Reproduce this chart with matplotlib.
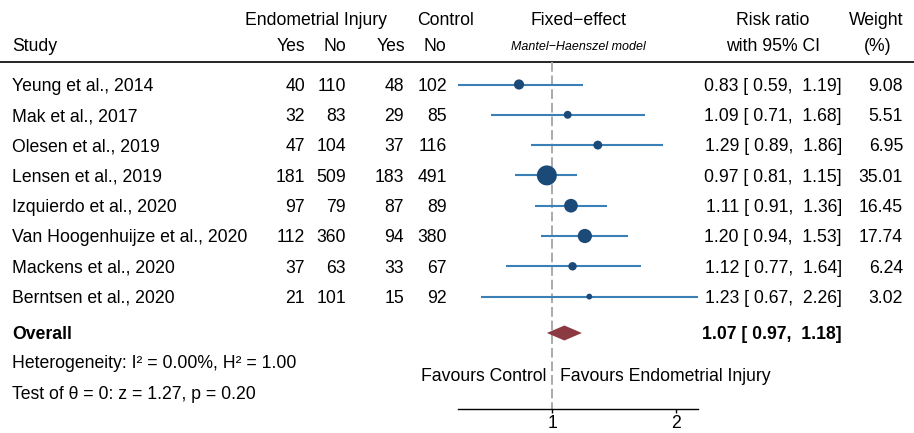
import matplotlib.pyplot as plt
import numpy as np
from matplotlib.ticker import NullLocator

plt.rcParams['font.family'] = ['Liberation Sans', 'DejaVu Sans']
plt.rcParams['font.size'] = 12.7

# study level data (endometrial injury vs control)
studies = ["Yeung et al., 2014", "Mak et al., 2017", "Olesen et al., 2019",
           "Lensen et al., 2019", "Izquierdo et al., 2020",
           "Van Hoogenhuijze et al., 2020", "Mackens et al., 2020",
           "Berntsen et al., 2020"]
ei_yes = [40, 32, 47, 181, 97, 112, 37, 21]
ei_no = [110, 83, 104, 509, 79, 360, 63, 101]
ctl_yes = [48, 29, 37, 183, 87, 94, 33, 15]
ctl_no = [102, 85, 116, 491, 89, 380, 67, 92]
rr = np.array([0.83, 1.09, 1.29, 0.97, 1.11, 1.20, 1.12, 1.23])
rr_lo = np.array([0.59, 0.71, 0.89, 0.81, 0.91, 0.94, 0.77, 0.67])
rr_hi = np.array([1.19, 1.68, 1.86, 1.15, 1.36, 1.53, 1.64, 2.26])
weight = np.array([9.08, 5.51, 6.95, 35.01, 16.45, 17.74, 6.24, 3.02])

# pooled estimate
ov_rr, ov_lo, ov_hi = 1.07, 0.97, 1.18
het_text = "Heterogeneity: I\u00b2 = 0.00%, H\u00b2 = 1.00"
test_text = "Test of \u03b8 = 0: z = 1.27, p = 0.20"

W, H = 914, 433
fig = plt.figure(figsize=(W / 100, H / 100), dpi=100)

# full figure axes in pixel units for the table text
bg = fig.add_axes([0, 0, 1, 1])
bg.set_xlim(0, W)
bg.set_ylim(H, 0)
bg.axis('off')

row_y = 84.5 + 30.3 * np.arange(len(studies))
ov_y = 333
base = 6.3  # half cap height -> baseline offset

def txt(x, y, s, ha='left', **kw):
    bg.text(x, y + base, s, ha=ha, va='baseline', **kw)

# header
txt(316, 19, "Endometrial Injury", ha='center')
txt(445, 19, "Control", ha='center')
txt(578, 19, "Fixed\u2212effect", ha='center')
txt(773, 19, "Risk ratio", ha='center')
txt(876, 19, "Weight", ha='center')
txt(12, 45, "Study")
for x, s in zip([305, 346, 405, 446], ["Yes", "No", "Yes", "No"]):
    txt(x, 45, s, ha='right')
bg.text(578, 45 + 4.5, "Mantel\u2212Haenszel model", ha='center', va='baseline',
        fontsize=9, style='italic')
txt(773, 45, "with 95% CI", ha='center')
txt(878, 45, "(%)", ha='center')
bg.plot([0, W], [62, 62], color='black', lw=1.2)

# study rows
for i, y in enumerate(row_y):
    txt(12, y, studies[i])
    txt(305, y, str(ei_yes[i]), ha='right')
    txt(346, y, str(ei_no[i]), ha='right')
    txt(404, y, str(ctl_yes[i]), ha='right')
    txt(447, y, str(ctl_no[i]), ha='right')
    txt(842, y, f"{rr[i]:.2f} [{rr_lo[i]:5.2f}, {rr_hi[i]:5.2f}]", ha='right')
    txt(903, y, f"{weight[i]:.2f}", ha='right')

txt(12, ov_y, "Overall", fontweight='bold')
txt(842, ov_y, f"{ov_rr:.2f} [{ov_lo:5.2f}, {ov_hi:5.2f}]", ha='right',
    fontweight='bold')
txt(12, 362, het_text)
txt(12, 393, test_text)
txt(546, 375, "Favours Control", ha='right')
txt(560, 375, "Favours Endometrial Injury")

# forest plot on a log axis
fa = fig.add_axes([458 / W, 0, 240 / W, 1])
fa.patch.set_alpha(0)
fa.set_xscale('log')
fa.set_xlim(rr_lo.min(), rr_hi.max())
fa.set_ylim(H, 0)

fa.plot([1, 1], [62, 409], color='#aaaaaa', lw=1.4, ls=(0, (5, 2)), zorder=1)
fa.hlines(row_y, rr_lo, rr_hi, color='#3a7fb5', lw=1.5, zorder=2)
sizes = (20 * np.sqrt(weight / weight.max()) * 0.72) ** 2
fa.scatter(rr, row_y, s=sizes, color='#1c4a78', zorder=3, linewidths=0)
fa.fill([ov_lo, ov_rr, ov_hi, ov_rr], [ov_y, ov_y - 7.5, ov_y, ov_y + 7.5],
        color='#8b3a41', zorder=3, lw=0)

for side in ['top', 'left', 'right']:
    fa.spines[side].set_visible(False)
fa.spines['bottom'].set_position(('data', 409))
fa.spines['bottom'].set_linewidth(1.0)
fa.set_yticks([])
fa.set_xticks([1, 2])
fa.set_xticklabels(['1', '2'])
fa.xaxis.set_minor_locator(NullLocator())
fa.tick_params(axis='x', length=3, width=1, pad=1, labelsize=12.7)

fig.savefig("out.png", dpi=100)
